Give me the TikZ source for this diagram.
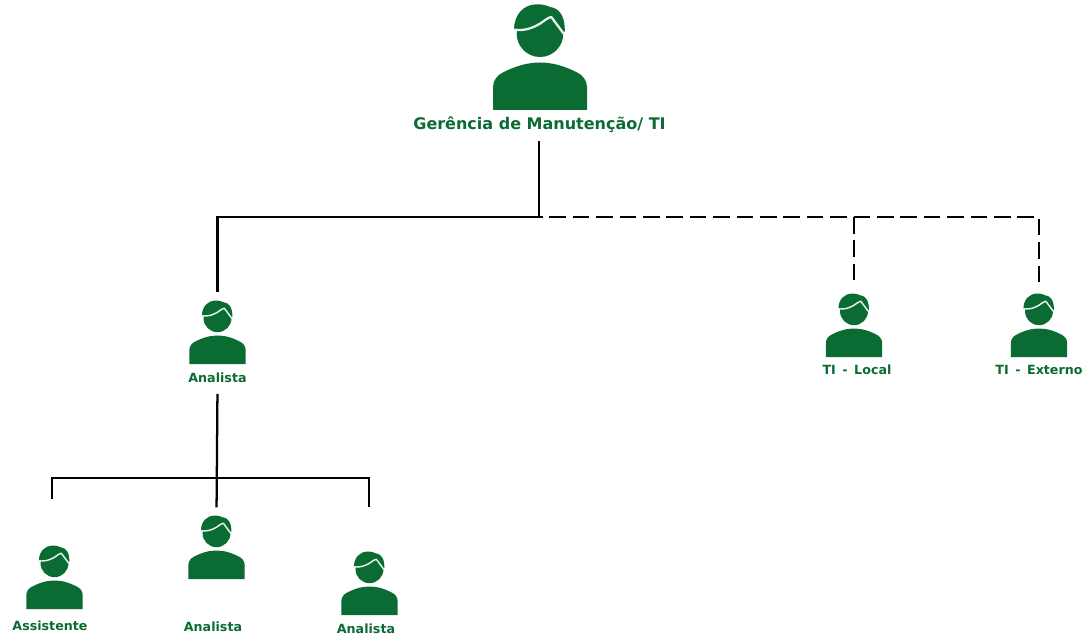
\documentclass[tikz,border=0pt]{standalone}
\usepackage{fontspec}
\setmainfont{DejaVu Sans}
\definecolor{verdeti}{HTML}{0A6B33}
\tikzset{
    personicon/.pic={
        \node[inner sep=0,outer sep=0,minimum width=70.5pt,minimum height=79.5pt,anchor=south,transform shape] (-box) at (0,0) {};
        \fill[verdeti] (0,-76.3) circle (23.3);
        \fill[verdeti] (-26,-80) .. controls (-26,-96) and (-16,-105.7) .. (-3,-105.7) .. controls (3,-105.7) and (7,-104.5) .. (10,-103) .. controls (19,-102) and (25.5,-94) .. (24.7,-78) -- cycle;
        \fill[verdeti] (-47,0) -- (-47,-23) .. controls (-47,-30) and (-42,-35) .. (-38,-37) .. controls (-25,-44) and (-12,-47.5) .. (0,-47.5) .. controls (12,-47.5) and (25,-44) .. (38,-37) .. controls (42,-35) and (47,-30) .. (47,-23) -- (47,0) -- cycle;
        \draw[white!92!verdeti,line width=#1,line join=round] (-26.3,-80.3) .. controls (-14,-79) and (-8,-82) .. (0,-86.3) .. controls (4,-89) and (8,-92.5) .. (11.3,-93) -- (23.7,-76.3);
    },
    nomegrande/.style={text=verdeti,font=\bfseries\fontsize{12}{14}\selectfont,inner sep=0,text height=9pt,text depth=2.5pt},
    nomepequeno/.style={text=verdeti,font=\bfseries\fontsize{9.5}{11}\selectfont,inner sep=0,text height=7pt,text depth=2pt},
    linha/.style={black,line width=1.7pt},
    tracejada/.style={black,line width=1.6pt,dash pattern=on 12.5pt off 5.05pt}
}
\begin{document}
\begin{tikzpicture}[x=0.75pt,y=-0.75pt]
        \useasboundingbox (0,0) rectangle (1088,638);
        \pic (gerencia) at (540,110) {personicon=1.7pt};
        \pic[scale=0.6] (analista) at (217.5,364) {personicon=1.1pt};
        \pic[scale=0.6] (local) at (854,357) {personicon=1.1pt};
        \pic[scale=0.6] (externo) at (1039,357) {personicon=1.1pt};
        \pic[scale=0.6] (assistente) at (54.5,609) {personicon=1.1pt};
        \pic[scale=0.6] (segundo) at (216.5,579) {personicon=1.1pt};
        \pic[scale=0.6] (terceiro) at (369.5,615) {personicon=1.1pt};

        \node[nomegrande] (nomegerencia) at (539.5,125.5) {Gerência de Manutenção/ TI};
        \node[nomepequeno] (nomeanalista) at (217.5,379.5) {Analista};
        \node[nomepequeno] (nomelocal) at (857,371.5) {TI \,-\, Local};
        \node[nomepequeno] (nomeexterno) at (1039,371.5) {TI \,-\, Externo};
        \node[nomepequeno] (nomeassistente) at (50,627.5) {Assistente};
        \node[nomepequeno] (nomesegundo) at (213,628.5) {Analista};
        \node[nomepequeno] (nometerceiro) at (366,630.5) {Analista};

        \coordinate (juncao) at (539,217);
        \coordinate (inicio) at (526,217);
        \coordinate (barraesq) at (52,478);
        \coordinate (barradir) at (369,478);

        \draw[linha,shorten <=6pt] (nomegerencia.south -| juncao) -- (juncao);
        \draw[linha,shorten >=6pt] (juncao) -| (analista-box.north);
        \draw[tracejada,shorten >=7.8pt] (inicio) -| (externo-box.north);
        \draw[tracejada,shorten >=8.9pt] (inicio -| local-box.north) -- (local-box.north);
        \draw[linha,shorten <=6pt,shorten >=6pt] (nomeanalista.south) -- (segundo-box.north);
        \draw[linha,shorten <=34.5pt,shorten >=33pt] (barraesq |- assistente-box.north) -- (barraesq) -- (barradir) -- (barradir |- terceiro-box.north);
    \end{tikzpicture}
\end{document}
